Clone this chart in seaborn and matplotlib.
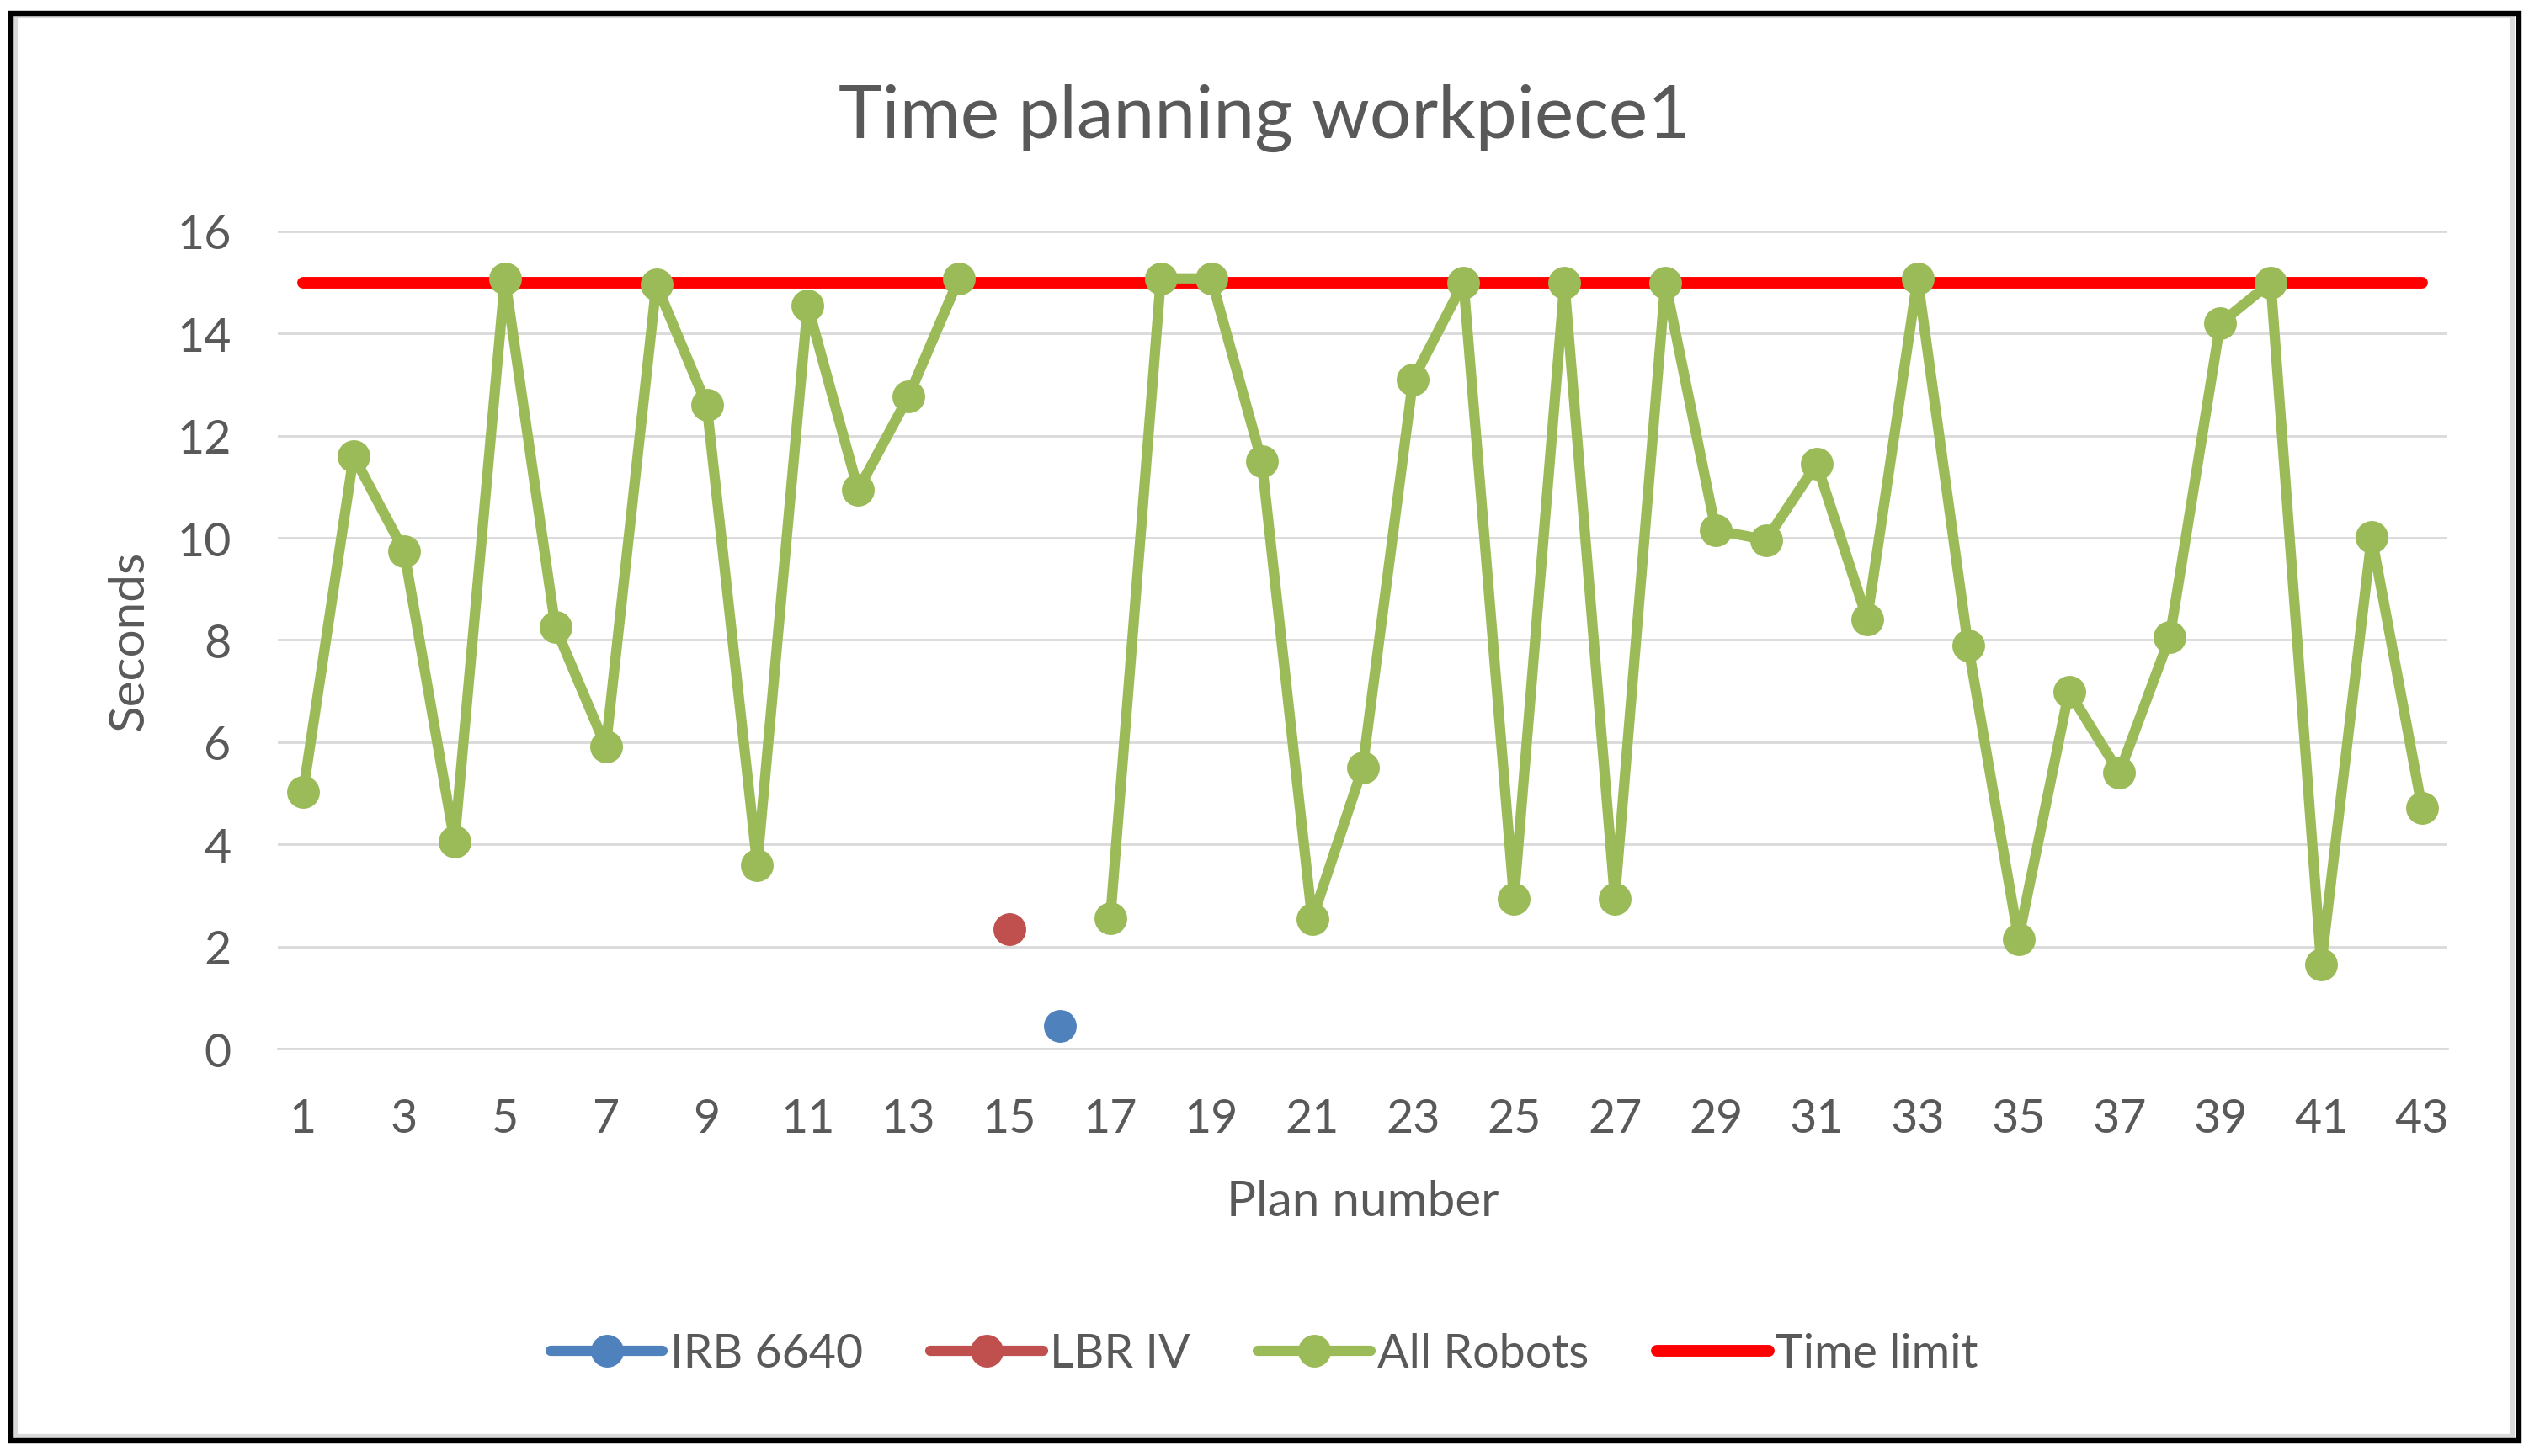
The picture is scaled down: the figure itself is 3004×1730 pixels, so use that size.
import numpy as np
import pandas as pd
import matplotlib
matplotlib.use('Agg')
import matplotlib.pyplot as plt
from matplotlib.lines import Line2D
from matplotlib.patches import Rectangle
import seaborn as sns

# ── DATA ────────────────────────────────────────────────────────────────────
plans_all = [1, 2, 3, 4, 5, 6, 7, 8, 9, 10, 11, 12, 13, 14,
             17, 18, 19, 20, 21, 22, 23, 24, 25, 26, 27, 28, 29, 30,
             31, 32, 33, 34, 35, 36, 37, 38, 39, 40, 41, 42, 43]
seconds_all = [5.03, 11.6, 9.74, 4.05, 15.08, 8.25, 5.91, 14.96, 12.6, 3.6,
               14.55, 10.94, 12.77, 15.08,
               2.56, 15.08, 15.08, 11.5, 2.53, 5.5, 13.1, 15.0, 2.94, 15.0,
               2.94, 15.0, 10.15, 9.96, 11.45, 8.41, 15.08, 7.9, 2.15, 6.99,
               5.4, 8.06, 14.2, 15.0, 1.64, 10.02, 4.71]
# plans 15-16 have no "All Robots" value, so the line is broken there
segment_all = [0] * 14 + [1] * 27

plans_irb = [16]
seconds_irb = [0.44]
plans_lbr = [15]
seconds_lbr = [2.34]

limit_plans = [1, 43]
limit_seconds = [15, 15]

x_ticks = list(range(1, 44, 2))
y_ticks = [0, 2, 4, 6, 8, 10, 12, 14, 16]

# ── STYLE ───────────────────────────────────────────────────────────────────
C_IRB = '#4F81BD'
C_LBR = '#C0504D'
C_ALL = '#9BBB59'
C_LIMIT = '#FF0000'
C_TEXT = '#595959'
C_GRID = '#D9D9D9'

LW_ALL = 4.4
LW_LIMIT = 5.0
MS = 14

sns.set_theme(style='white')
plt.rcParams['font.family'] = ['Lato', 'DejaVu Sans']

fig = plt.figure(figsize=(15.02, 8.655), dpi=200)
fig.patch.set_facecolor('white')
ax = fig.add_axes([0.1099, 0.2796, 0.8578, 0.5610])

df_all = pd.DataFrame({'plan': plans_all, 'seconds': seconds_all, 'segment': segment_all})

# time limit first so the green markers sit on top of it
sns.lineplot(x=limit_plans, y=limit_seconds, color=C_LIMIT, linewidth=LW_LIMIT,
             solid_capstyle='round', ax=ax, zorder=2)
sns.lineplot(data=df_all, x='plan', y='seconds', units='segment', estimator=None,
             color=C_ALL, linewidth=LW_ALL, marker='o', markersize=MS,
             markeredgewidth=0, ax=ax, zorder=3)
sns.scatterplot(x=plans_lbr, y=seconds_lbr, color=C_LBR, s=MS ** 2, linewidth=0, ax=ax, zorder=3)
sns.scatterplot(x=plans_irb, y=seconds_irb, color=C_IRB, s=MS ** 2, linewidth=0, ax=ax, zorder=3)

ax.set_xlim(0.5, 43.5)
ax.set_ylim(0, 16)
ax.set_xticks(x_ticks)
ax.set_yticks(y_ticks)
ax.yaxis.grid(True, color=C_GRID, linewidth=1.0)
ax.xaxis.grid(False)
ax.set_axisbelow(True)
for name, spine in ax.spines.items():
    spine.set_visible(name == 'bottom')
ax.spines['bottom'].set_color(C_GRID)
ax.spines['bottom'].set_linewidth(1.0)
ax.tick_params(axis='both', length=0, labelsize=20, colors=C_TEXT)
ax.tick_params(axis='y', pad=20)
ax.tick_params(axis='x', pad=21)

ax.set_xlabel('Plan number', fontsize=21, color=C_TEXT, va='center')
ax.set_ylabel('Seconds', fontsize=21, color=C_TEXT, va='center')
ax.xaxis.set_label_coords(0.5, -0.187)
ax.yaxis.set_label_coords(-0.0687, 0.5)

fig.text(0.5, 0.919, 'Time planning workpiece1', fontsize=31.5, color=C_TEXT,
         ha='center', va='center')

handles = [
    Line2D([], [], color=C_IRB, linewidth=LW_ALL, marker='o', markersize=MS, markeredgewidth=0),
    Line2D([], [], color=C_LBR, linewidth=LW_ALL, marker='o', markersize=MS, markeredgewidth=0),
    Line2D([], [], color=C_ALL, linewidth=LW_ALL, marker='o', markersize=MS, markeredgewidth=0),
    Line2D([], [], color=C_LIMIT, linewidth=LW_LIMIT, solid_capstyle='round'),
]
fig.legend(handles, ['IRB 6640', 'LBR IV', 'All Robots', 'Time limit'],
           loc='center', bbox_to_anchor=(0.5, 0.07), ncol=4, frameon=False,
           fontsize=20, labelcolor=C_TEXT, handlelength=2.4, handletextpad=0.15,
           columnspacing=1.45)

# outer frame: black border with a light grey inner rim
fig.patches.append(Rectangle((18 / 3004, 1 - 1708 / 1731), 2966 / 3004, 1689 / 1731,
                             transform=fig.transFigure, fill=False,
                             edgecolor=C_GRID, linewidth=2.2))
fig.patches.append(Rectangle((13 / 3004, 1 - 1713 / 1731), 2979 / 3004, 1696 / 1731,
                             transform=fig.transFigure, fill=False,
                             edgecolor='black', linewidth=2.3))

fig.savefig('out.png', dpi=200, facecolor='white')
